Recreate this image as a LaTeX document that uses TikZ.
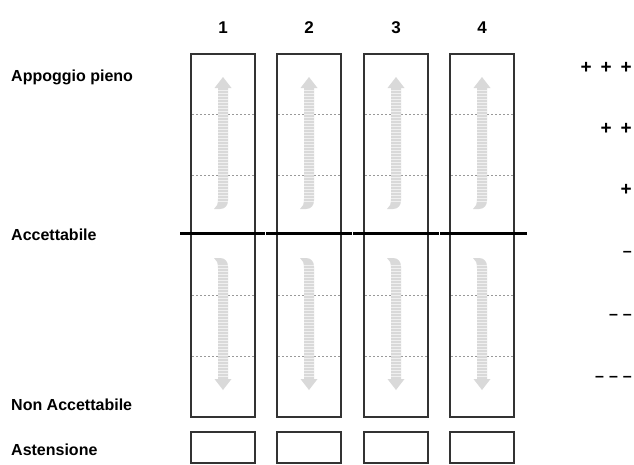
\documentclass[tikz,border=0pt]{standalone}
\usepackage{fontspec}
\setmainfont{Liberation Sans}
\begin{document}
\begin{tikzpicture}[x=1pt,y=-1pt,
  lbl/.style={font=\fontsize{16}{19}\selectfont\bfseries, inner sep=0pt},
  numlbl/.style={font=\fontsize{17}{20}\selectfont\bfseries, inner sep=0pt},
  symlbl/.style={font=\fontsize{19}{22}\selectfont\bfseries, inner sep=0pt},
  colbox/.style={draw=black!80, line width=1.3pt, minimum width=64pt, inner sep=0pt},
  dotline/.style={draw=gray!80, line width=0.8pt, dash pattern=on 2pt off 2pt},
  axisline/.style={draw=black, line width=2.8pt},
  arrfill/.style={fill=gray!30},
  stripe/.style={draw=gray!12, line width=0.9pt}
]
\useasboundingbox (0,0) rectangle (634,464);
% column boxes
\foreach \i/\cx in {1/223,2/309,3/396,4/482} {
  \node[colbox, minimum height=363pt] (box\i) at (\cx,235.5) {};
  \node[colbox, minimum height=31pt] (abs\i) at (\cx,447.5) {};
  \node[numlbl] (num\i) at (\cx,28) {\i};
  \foreach \yy in {114.7,175,295,356}
    \draw[dotline] (\cx-31,\yy) -- (\cx+31,\yy);
  \foreach \s in {1,-1} {
    \begin{scope}[shift={(\cx,233.5)}, yscale=\s]
      \path[arrfill] (-8.5,-145.5) -- (0,-156.5) -- (8.5,-145.5) -- (5,-145.5)
        -- (5,-33) .. controls (5,-28) and (2,-24.5) .. (-3,-24.5) -- (-9,-24.5)
        .. controls (-6,-26.5) and (-5,-29.5) .. (-5,-35) -- (-5,-145.5) -- cycle;
      \foreach \k in {0,...,37}
        \draw[stripe] (-5,{-143+\k*3}) -- (5,{-143+\k*3});
    \end{scope}
  }
}
% horizontal acceptance line
\draw[axisline] (180,233.5) -- (265,233.5);
\draw[axisline] (266,233.5) -- (352,233.5);
\draw[axisline] (353,233.5) -- (439,233.5);
\draw[axisline] (440,233.5) -- (527,233.5);
% left labels
\node[lbl, anchor=base west] (l1) at (11,81) {Appoggio pieno};
\node[lbl, anchor=base west] (l2) at (11,240.5) {Accettabile};
\node[lbl, anchor=base west] (l3) at (11,410) {Non Accettabile};
\node[lbl, anchor=base west] (l4) at (11,455) {Astensione};
% right scale
\node[symlbl, anchor=east] (r1) at (632,68) {+\hspace{9pt}+\hspace{9pt}+};
\node[symlbl, anchor=east] (r2) at (632,129) {+\hspace{9pt}+};
\node[symlbl, anchor=east] (r3) at (632,190) {+};
\node[symlbl, anchor=east] (r4) at (632,254) {\fontsize{16}{19}\selectfont –};
\node[symlbl, anchor=east] (r5) at (632,317) {\fontsize{16}{19}\selectfont –\hspace{5pt}–};
\node[symlbl, anchor=east] (r6) at (632,379) {\fontsize{16}{19}\selectfont –\hspace{5pt}–\hspace{5pt}–};
\end{tikzpicture}
\end{document}
